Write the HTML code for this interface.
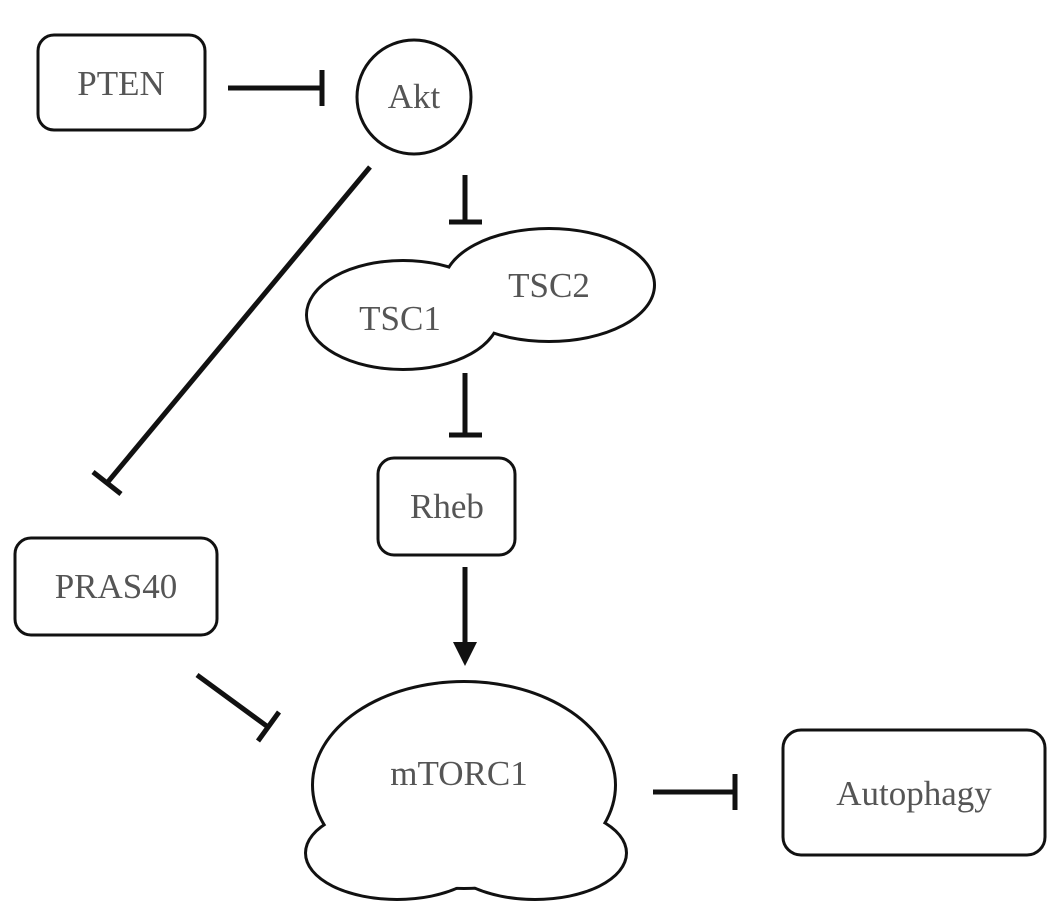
<!DOCTYPE html>
<html><head><style>body{margin:0;background:#fff}svg{display:block}text{font-family:"Liberation Serif",serif;font-size:35px;fill:#555;text-anchor:middle}</style></head>
<body>
<svg width="1063" height="915" viewBox="0 0 1063 915">
<g fill="none" stroke="#111" stroke-width="3">
<rect x="38" y="35" width="167" height="95" rx="16"/>
<circle cx="414" cy="97" r="57"/>
<rect x="378" y="458" width="137" height="97" rx="16"/>
<rect x="15" y="538" width="202" height="97" rx="16"/>
<rect x="783" y="730" width="262" height="125" rx="18"/>
</g>
<!-- TSC union -->
<g stroke="#111" stroke-width="6" fill="none">
<ellipse cx="403" cy="315" rx="95" ry="53"/>
<ellipse cx="549" cy="285" rx="104" ry="55"/>
</g>
<g fill="#fff">
<ellipse cx="403" cy="315" rx="95" ry="53"/>
<ellipse cx="549" cy="285" rx="104" ry="55"/>
</g>
<!-- mTORC1 union -->
<g stroke="#111" stroke-width="6" fill="none">
<ellipse cx="464" cy="785" rx="150" ry="102"/>
<ellipse cx="397" cy="853" rx="90" ry="45"/>
<ellipse cx="535" cy="853" rx="90" ry="45"/>
</g>
<g fill="#fff">
<ellipse cx="464" cy="785" rx="150" ry="102"/>
<ellipse cx="397" cy="853" rx="90" ry="45"/>
<ellipse cx="535" cy="853" rx="90" ry="45"/>
</g>
<g stroke="#111" stroke-width="5" fill="none">
<line x1="228" y1="88" x2="322" y2="88"/><line x1="322" y1="70" x2="322" y2="106"/>
<line x1="465" y1="175" x2="465" y2="222"/><line x1="449" y1="222" x2="482" y2="222"/>
<line x1="370" y1="167" x2="107" y2="483"/><line x1="93" y1="472" x2="121" y2="494"/>
<line x1="465" y1="373" x2="465" y2="435"/><line x1="449" y1="435" x2="482" y2="435"/>
<line x1="465" y1="567" x2="465" y2="645"/>
<line x1="197" y1="675" x2="268" y2="727"/><line x1="258" y1="741" x2="279" y2="712"/>
<line x1="653" y1="792" x2="735" y2="792"/><line x1="735" y1="774" x2="735" y2="810"/>
</g>
<polygon points="453,642 477,642 465,666" fill="#111"/>
<text x="121" y="95">PTEN</text>
<text x="414" y="108">Akt</text>
<text x="400" y="330">TSC1</text>
<text x="549" y="297">TSC2</text>
<text x="447" y="518">Rheb</text>
<text x="116" y="598">PRAS40</text>
<text x="459" y="785">mTORC1</text>
<text x="914" y="805">Autophagy</text>
</svg>
</body></html>
